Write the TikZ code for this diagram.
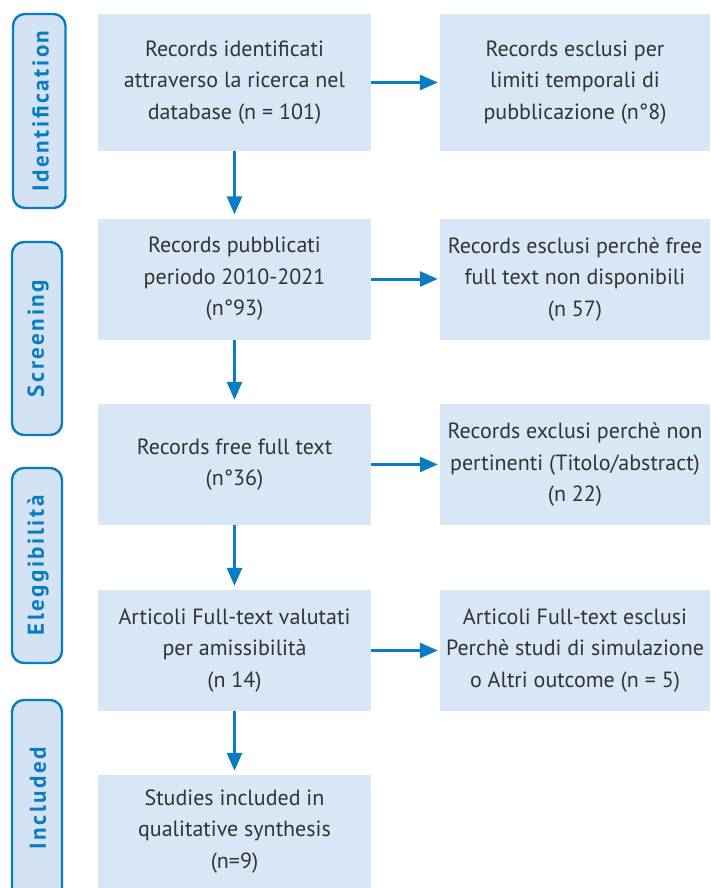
\documentclass[tikz,border=0pt]{standalone}
\usepackage{fontspec}
\setmainfont{PT Sans}
\newfontfamily\pillfont[LetterSpace=11]{PT Sans}
\usetikzlibrary{arrows.meta}
\definecolor{boxfill}{HTML}{D7E7F6}
\definecolor{pillfill}{HTML}{D3E3F4}
\definecolor{accent}{HTML}{0A7DC2}
\definecolor{txt}{HTML}{333333}
\tikzset{
  stagebox/.style={draw=none, fill=boxfill, minimum width=273pt, inner sep=0pt, align=center,
    text=txt, font=\fontsize{22}{31.5}\selectfont},
  sidebox/.style={draw=none, fill=boxfill, minimum width=270pt, inner sep=0pt, align=center,
    text=txt, font=\fontsize{22}{31.5}\selectfont},
  pill/.style={draw=accent, line width=2.4pt, fill=pillfill, rounded corners=12pt},
  pilltext/.style={text=accent, rotate=90, inner sep=0pt},
  flow/.style={draw=accent, line width=3pt, -{Triangle[length=18pt,width=15pt]}},
}
\newcommand{\pilltxt}[1]{{\pillfont\fontsize{23}{26}\selectfont\bfseries #1}}
\begin{document}
\begin{tikzpicture}[x=1pt,y=-1pt]
\useasboundingbox (0,0) rectangle (710,888);
% stage pills
\draw[pill] (13,14) rectangle (65.5,208);
\node[pilltext] (pI) at (40.5,111) {\pilltxt{Identification}};
\draw[pill] (12,242) rectangle (62,435);
\node[pilltext] (pS) at (38,338.5) {\pilltxt{Screening}};
\draw[pill] (12,468) rectangle (62,663);
\node[pilltext] (pE) at (38,565.5) {\pilltxt{Eleggibilità}};
\draw[pill] (12,700) rectangle (62,900);
\node[pilltext] (pN) at (38,798) {\pilltxt{Included}};
% main column
\node[stagebox, minimum height=137pt] (b1) at (234.5,82.5) {Records identificati\\attraverso la ricerca nel\\database (n = 101)};
\node[stagebox, minimum height=121pt] (b2) at (234.5,279) {Records pubblicati\\periodo 2010-2021\\(n°93)};
\node[stagebox, minimum height=121pt] (b3) at (234.5,464.5) {Records free full text\\(n°36)};
\node[stagebox, minimum height=121pt] (b4) at (234.5,650.5) {Articoli Full-text valutati\\per amissibilità\\(n 14)};
\node[stagebox, minimum height=113pt] (b5) at (234.5,831.5) {Studies included in\\qualitative synthesis\\(n=9)};
% side column
\node[sidebox, minimum height=137pt] (r1) at (575,82.5) {Records esclusi per\\limiti temporali di\\pubblicazione (n°8)};
\node[sidebox, minimum height=121pt] (r2) at (575,279) {Records esclusi perchè free\\full text non disponibili\\(n 57)};
\node[sidebox, minimum height=121pt] (r3) at (575,464.5) {Records exclusi perchè non\\pertinenti (Titolo/abstract)\\(n 22)};
\node[sidebox, minimum height=121pt] (r4) at (575,650.5) {Articoli Full-text esclusi\\Perchè studi di simulazione\\o Altri outcome (n = 5)};
% arrows
\foreach \a/\b in {b1/b2,b2/b3,b3/b4,b4/b5}{
  \draw[flow, shorten >=4pt] (\a.south) -- (\b.north);
}
\foreach \a/\b in {b1/r1,b2/r2,b3/r3,b4/r4}{
  \draw[flow, shorten >=2pt] (\a.east) -- (\b.west);
}
\end{tikzpicture}
\end{document}
